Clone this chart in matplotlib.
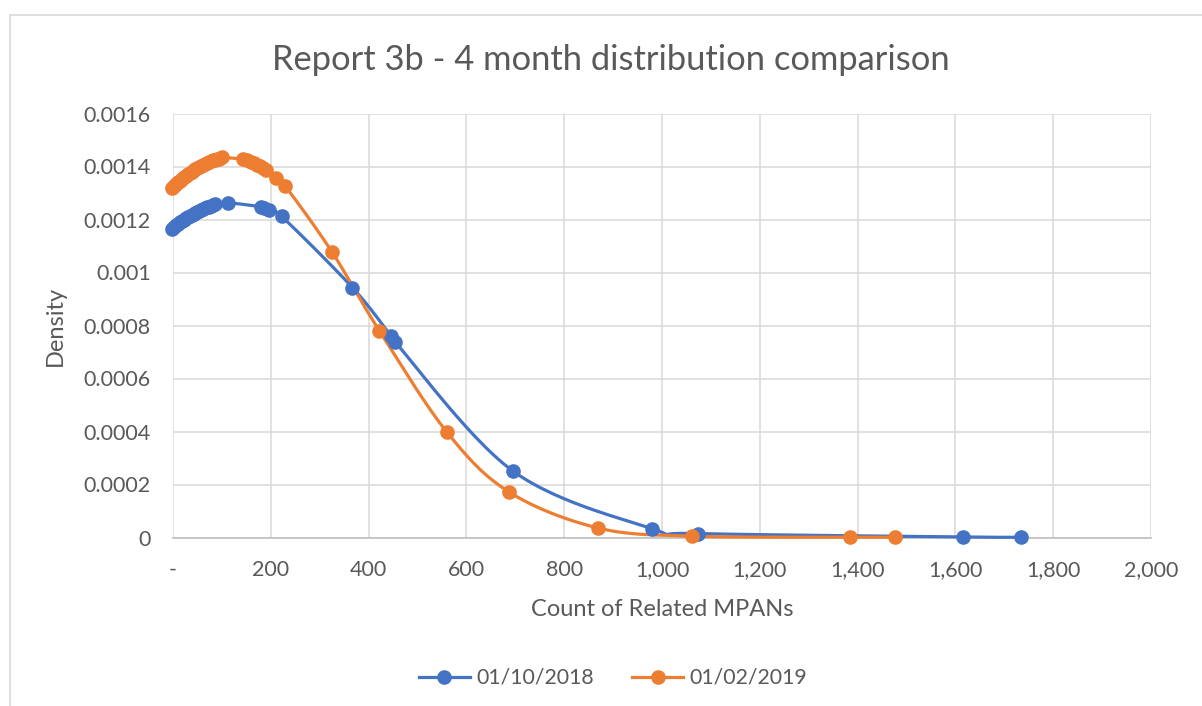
import matplotlib
matplotlib.use("Agg")
import matplotlib.pyplot as plt
import numpy as np
from matplotlib.patches import Rectangle
from matplotlib.ticker import FuncFormatter

# ---- data ----
blue_label = "01/10/2018"
blue_x = [-3, 2, 6, 10, 14, 18, 22, 26, 30, 34, 38, 42, 46, 50, 54, 58, 62, 66, 70, 74, 78, 82, 86,
          113, 180, 187, 196, 222, 367, 446, 454, 695, 980, 1073, 1615, 1734]
blue_y = [0.001165, 0.001172, 0.001178, 0.001183, 0.001189, 0.001194, 0.001199, 0.001204, 0.001208,
          0.001213, 0.001217, 0.001221, 0.001225, 0.001229, 0.001233, 0.001236, 0.001240, 0.001243,
          0.001246, 0.001249, 0.001252, 0.001255, 0.001258,
          0.001263, 0.001248, 0.001243, 0.001235, 0.001212, 0.000943, 0.000760, 0.000738,
          0.000251, 0.000033, 0.000015, 0.000002, 0.000001]

orange_label = "01/02/2019"
orange_x = [-3, 2, 6, 10, 14, 18, 22, 26, 30, 34, 38, 42, 46, 50, 54, 58, 62, 66, 70, 74, 78, 82, 86, 90, 94,
            100, 144, 152, 160, 166, 172, 178, 184, 190, 210, 230, 325, 422, 560, 687, 869, 1062, 1384, 1476]
orange_y = [0.001317, 0.001326, 0.001333, 0.001340, 0.001347, 0.001353, 0.001359, 0.001365, 0.001371,
            0.001376, 0.001381, 0.001386, 0.001391, 0.001395, 0.001399, 0.001403, 0.001407, 0.001411,
            0.001414, 0.001417, 0.001420, 0.001423, 0.001425, 0.001427, 0.001429,
            0.001434, 0.001428, 0.001423, 0.001418, 0.001413, 0.001407, 0.001401, 0.001394, 0.001387,
            0.001358, 0.001325, 0.001078, 0.000780, 0.000398, 0.000172, 0.000036, 0.000005,
            0.000001, 0.000001]

title = "Report 3b - 4 month distribution comparison"
x_label = "Count of Related MPANs"
y_label = "Density"
x_ticks = [0, 200, 400, 600, 800, 1000, 1200, 1400, 1600, 1800, 2000]
y_ticks = [0, 0.0002, 0.0004, 0.0006, 0.0008, 0.001, 0.0012, 0.0014, 0.0016]
y_tick_labels = ["0", "0.0002", "0.0004", "0.0006", "0.0008", "0.001", "0.0012", "0.0014", "0.0016"]

BLUE = "#4472C4"
ORANGE = "#ED7D31"
TXT = "#595959"
FONT = ["Lato", "DejaVu Sans"]
plt.rcParams["font.family"] = FONT


def smooth(xs, ys, n=30):
    """Excel-like smoothed line (Catmull-Rom / cubic Bezier, tension 1/6)."""
    P = np.column_stack([xs, ys]).astype(float)
    m = len(P)
    out = []
    for i in range(m - 1):
        p0 = P[i - 1] if i > 0 else P[i]
        p1 = P[i]
        p2 = P[i + 1]
        p3 = P[i + 2] if i + 2 < m else P[i + 1]
        c1 = p1 + (p2 - p0) / 6.0
        c2 = p2 - (p3 - p1) / 6.0
        t = np.linspace(0, 1, n)[:, None]
        seg = ((1 - t) ** 3) * p1 + 3 * ((1 - t) ** 2) * t * c1 + 3 * (1 - t) * t ** 2 * c2 + t ** 3 * p2
        out.append(seg if i == 0 else seg[1:])
    S = np.vstack(out)
    return S[:, 0], S[:, 1]


fig = plt.figure(figsize=(12.02, 7.06), dpi=100)
fig.patches.append(Rectangle((10 / 1202, -0.05), 1.1, 1 - 15 / 706 + 0.05, transform=fig.transFigure,
                             fill=False, edgecolor="#d9d9d9", linewidth=1.2))

ax = fig.add_axes([173 / 1202, 1 - 537.5 / 706, (1151 - 173) / 1202, (537.5 - 113.5) / 706])

for xs, ys, c, lab in [(blue_x, blue_y, BLUE, blue_label), (orange_x, orange_y, ORANGE, orange_label)]:
    sx, sy = smooth(xs, ys)
    ax.plot(sx, sy, color=c, lw=2.3, solid_capstyle="round", zorder=3, clip_on=False)
    ax.plot(xs, ys, linestyle="none", marker="o", ms=9.5, color=c, zorder=4, clip_on=False)
    ax.plot([], [], color=c, lw=2.3, marker="o", ms=9.5, label=lab)

ax.set_xlim(0, 2000)
ax.set_ylim(0, 0.0016)
ax.set_xticks(x_ticks)
ax.set_yticks(y_ticks)
ax.set_yticklabels(y_tick_labels)
ax.xaxis.set_major_formatter(FuncFormatter(lambda v, p: "-" if v == 0 else f"{int(v):,}"))
ax.grid(True, color="#d9d9d9", lw=1.1)
ax.set_axisbelow(True)
for s in ["left", "right", "top"]:
    ax.spines[s].set_visible(False)
ax.spines["bottom"].set_color("#bfbfbf")
ax.spines["bottom"].set_linewidth(1.2)
ax.tick_params(length=0, labelsize=15.5, colors=TXT)
ax.tick_params(axis="y", pad=16)
ax.tick_params(axis="x", pad=16)

ax.set_xlabel(x_label, fontsize=17, color=TXT, labelpad=14)
ax.set_ylabel(y_label, fontsize=17, color=TXT, labelpad=13)

fig.text(0.5085, 1 - 60 / 706, title, ha="center", va="center", fontsize=24.8, color=TXT)

leg = fig.legend(loc="center", bbox_to_anchor=(0.51, 1 - 678 / 706), ncol=2, frameon=False,
                 fontsize=15.3, handlelength=2.4, columnspacing=1.8, handletextpad=0.3)
for t in leg.get_texts():
    t.set_color(TXT)

fig.savefig("out.png", dpi=100, facecolor="white")
